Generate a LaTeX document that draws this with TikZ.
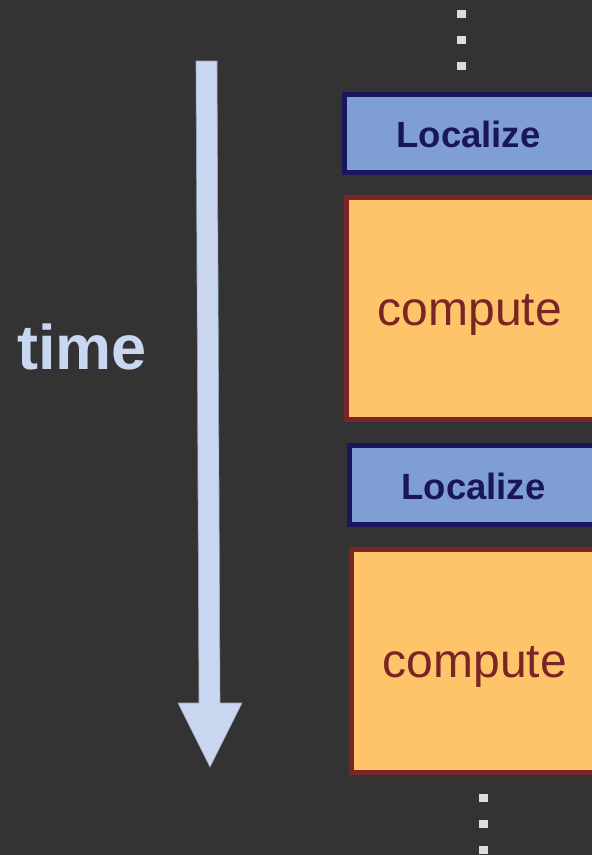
\documentclass[tikz,border=0pt]{standalone}
\usepackage{fontspec}
\setmainfont{Liberation Sans}
\definecolor{bg}{HTML}{333333}
\definecolor{locfill}{HTML}{7F9FD4}
\definecolor{locdraw}{HTML}{1A165E}
\definecolor{compfill}{HTML}{FDC46A}
\definecolor{compdraw}{HTML}{7A2424}
\definecolor{timecol}{HTML}{C9D7F1}
\definecolor{dotcol}{HTML}{DDDDDD}
\tikzset{
  locbox/.style={draw=locdraw, fill=locfill, line width=5pt},
  compbox/.style={draw=compdraw, fill=compfill, line width=4.5pt},
  loctext/.style={text=locdraw, font=\fontsize{36.5}{40}\selectfont\bfseries},
  comptext/.style={text=compdraw, font=\fontsize{48}{52}\selectfont},
  dot/.style={fill=dotcol},
}
\begin{document}
\begin{tikzpicture}[x=1pt,y=-1pt]
  \fill[bg] (0,0) rectangle (592,855);
  \useasboundingbox (0,0) rectangle (592,855);

  % continuation dots above and below
  \foreach \y in {14,40,66} \fill[dot] (457,\y-4) rectangle (466,\y+4);
  \foreach \y in {798,824,850} \fill[dot] (479,\y-4) rectangle (488,\y+4);

  % time axis arrow
  \fill[timecol, draw=timecol!70!bg, line width=0.6pt]
    (196,61) -- (217,61) -- (220,703) -- (242,703) -- (210,767)
    -- (178,703) -- (199,703) -- cycle;
  \node[text=timecol, font=\fontsize{63}{70}\selectfont\bfseries] (time) at (82,347) {time};

  % first pair
  \draw[locbox] (344.5,94.5) rectangle (594,172.5);
  \node[loctext] (loc1) at (468.5,134) {Localize};
  \draw[compbox] (346.5,197.5) rectangle (594,419.5);
  \node[comptext] (comp1) at (470,315) {compute};

  % second pair
  \draw[locbox] (349.5,445.5) rectangle (594,524.5);
  \node[loctext] (loc2) at (473.5,486) {Localize};
  \draw[compbox] (351.5,549.5) rectangle (594,772.5);
  \node[comptext] (comp2) at (475,667) {compute};
\end{tikzpicture}
\end{document}
